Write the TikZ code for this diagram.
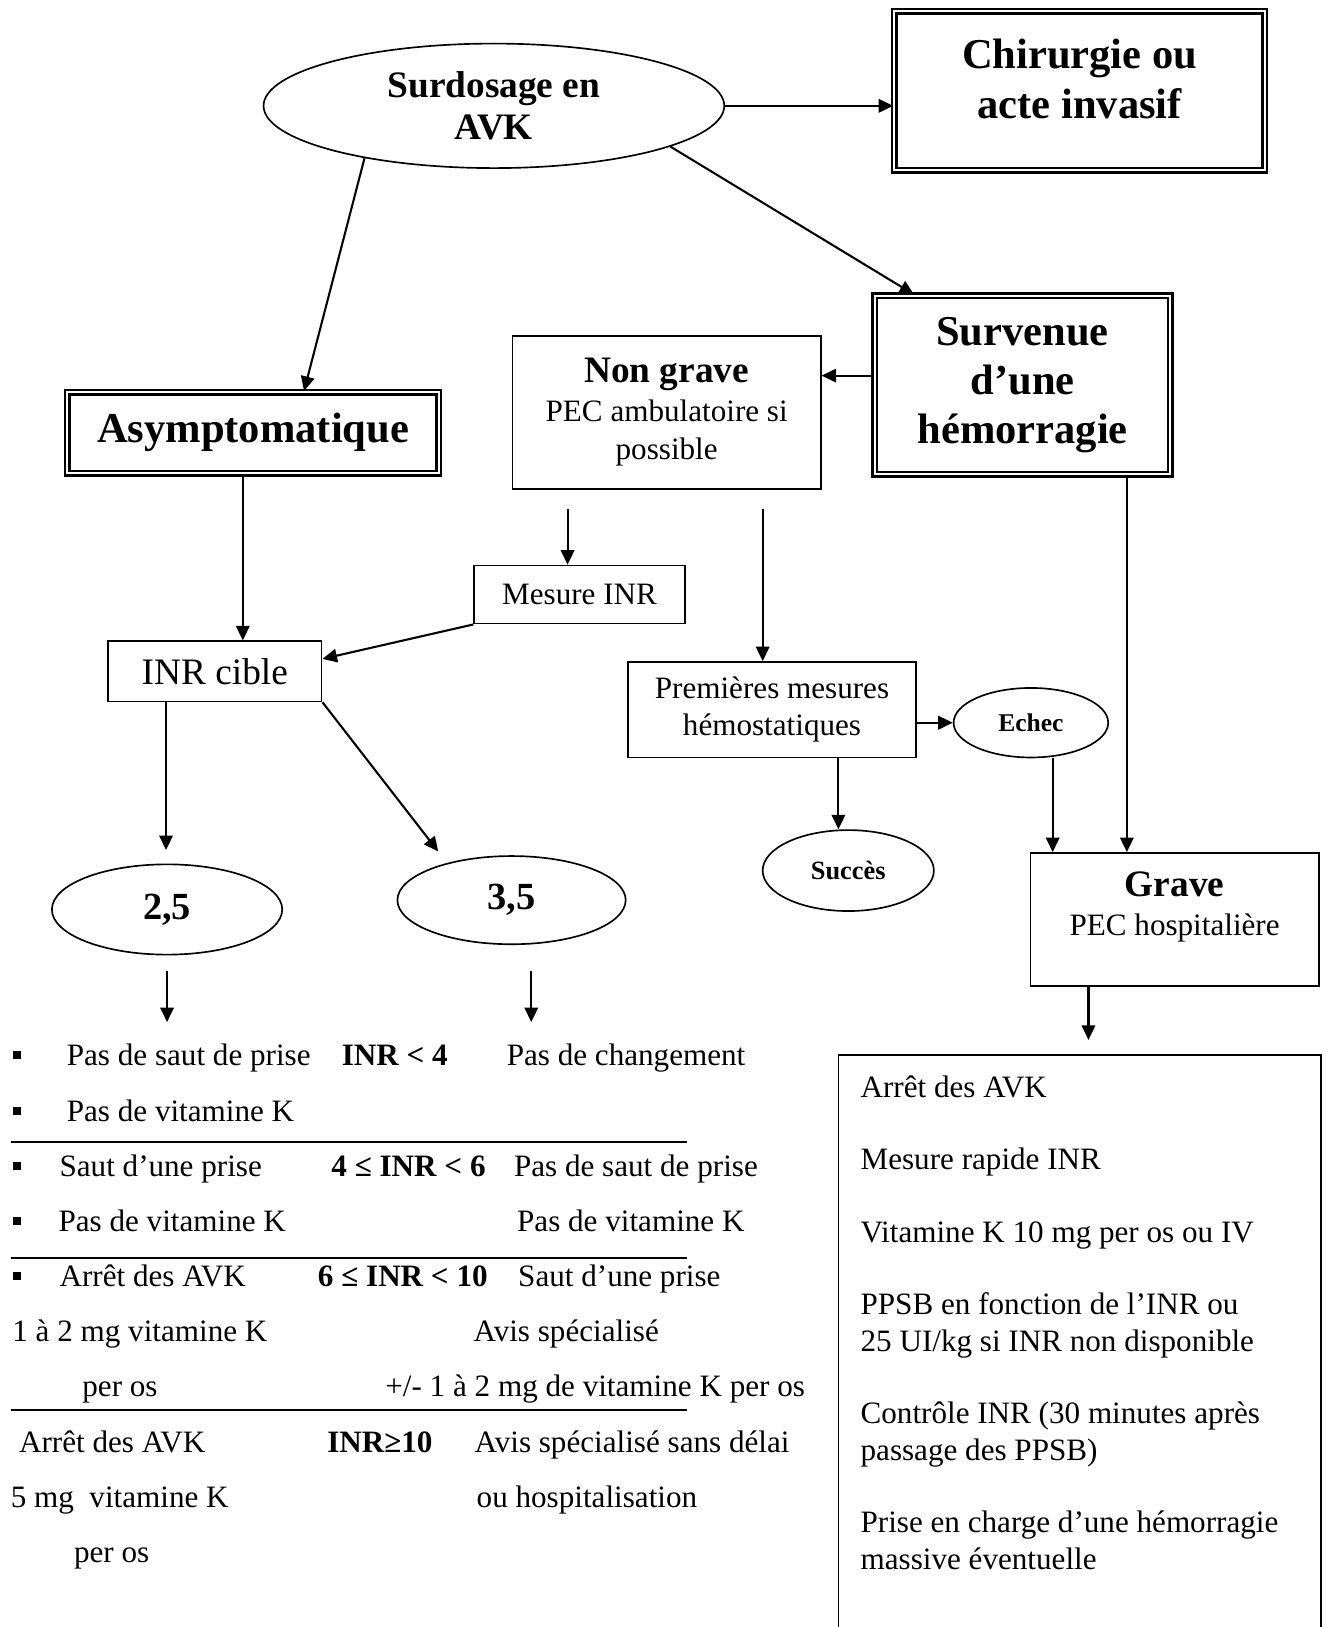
\documentclass[tikz,border=0pt]{standalone}
\usepackage{fontspec}
\setmainfont{Liberation Serif}
\usetikzlibrary{shapes.geometric,arrows.meta}

\begin{document}
\begin{tikzpicture}[x=0.5pt,y=-0.5pt,
    box/.style={draw,line width=0.8pt,inner sep=0pt,align=center},
    dbox/.style={draw,double,double distance=1pt,line width=1.2pt,inner sep=0pt,align=center},
    oval/.style={draw,ellipse,line width=0.8pt,inner sep=0pt,align=center},
    arr/.style={-{Triangle[length=7pt,width=6.5pt]},line width=1pt},
    txt/.style={anchor=base west,inner sep=0pt,font=\fontsize{15}{18}\selectfont},
    btxt/.style={txt,font=\fontsize{15}{18}\selectfont\bfseries},
    puce/.style={fill=black,inner sep=0pt,minimum size=4pt}]

    % Page
    \useasboundingbox (0,0) rectangle (1280,1568);
    \clip (0,0) rectangle (1280,1568);

    % Top of the chart
    \node[oval,minimum width=222pt,minimum height=60pt,font=\fontsize{18}{20}\selectfont\bfseries] (surd) at (476,102) {Surdosage en\\AVK};
    \node[dbox,minimum width=178.5pt,minimum height=76.5pt] (chir) at (1040.5,87.5) {};
    \node[align=center,font=\fontsize{20.5}{24}\selectfont\bfseries] (chirtxt) at (1040.5,76) {Chirurgie ou\\acte invasif};
    \node[dbox,minimum width=142.5pt,minimum height=86pt,font=\fontsize{20.5}{23.5}\selectfont\bfseries] (surv) at (985.5,371) {Survenue\\d’une\\hémorragie};
    \node[dbox,minimum width=179pt,minimum height=39pt,font=\fontsize{20.5}{24}\selectfont\bfseries] (asym) at (244,417) {Asymptomatique};
    \node[box,minimum width=148.5pt,minimum height=73.5pt,font=\fontsize{15}{18.5}\selectfont] (ng) at (642.5,397.5) {{\fontsize{18}{18.5}\selectfont\bfseries Non grave}\\PEC ambulatoire si\\possible};

    % Left branch
    \node[box,minimum width=101.5pt,minimum height=28pt,font=\fontsize{15}{18}\selectfont] (mes) at (558.5,573) {Mesure INR};
    \node[box,minimum width=103pt,minimum height=29pt,font=\fontsize{18}{20}\selectfont] (inrc) at (207,647) {INR cible};
    \node[oval,minimum width=111pt,minimum height=43.5pt,font=\fontsize{18.5}{20}\selectfont\bfseries] (e25) at (161,876.5) {2,5};
    \node[oval,minimum width=110pt,minimum height=42.5pt,font=\fontsize{18.5}{20}\selectfont\bfseries] (e35) at (493,867.5) {3,5};

    % Right branch
    \node[box,minimum width=139pt,minimum height=46pt,font=\fontsize{15}{18}\selectfont] (prem) at (744,684) {Premières mesures\\hémostatiques};
    \node[oval,minimum width=74.5pt,minimum height=33.5pt,font=\fontsize{12.3}{14}\selectfont\bfseries] (echec) at (993.5,696.5) {Echec};
    \node[oval,minimum width=82.5pt,minimum height=39pt,font=\fontsize{12.7}{14}\selectfont\bfseries] (succ) at (817.5,839) {Succès};
    \node[box,minimum width=139pt,minimum height=64pt] (grave) at (1132,886) {};
    \node[align=center,font=\fontsize{15}{19}\selectfont] (gravetxt) at (1132,874) {{\fontsize{18}{19}\selectfont\bfseries Grave}\\PEC hospitalière};
    \node[box,minimum width=232.5pt,minimum height=311.5pt] (avk) at (1040.5,1328.5) {};
    \node[anchor=north west,inner sep=0pt,align=left,font=\fontsize{15}{17.5}\selectfont] (avktxt) at (829,1036) {Arrêt des AVK\\[17.5pt]
        Mesure rapide INR\\[17.5pt]
        Vitamine K 10 mg per os ou IV\\[17.5pt]
        PPSB en fonction de l’INR ou\\25 UI/kg si INR non disponible\\[17.5pt]
        Contrôle INR (30 minutes après\\passage des PPSB)\\[17.5pt]
        Prise en charge d’une hémorragie\\massive éventuelle};

    % Arrows
    \draw[arr] (surd.east) -- (surd.east -| chir.west);
    \draw[arr] (surd.-13) -- ([xshift=19.5pt]surv.north west);
    \draw[arr] (surd.-158) -- ([xshift=24.5pt]asym.north);
    \draw[arr] ([yshift=4.5pt]surv.west) -- ([yshift=4.5pt]surv.west -| ng.east);
    \draw[arr] ([xshift=-5pt]asym.south) -- ([xshift=-5pt]asym.south |- inrc.north);
    \draw[arr,shorten <=9.5pt] ([xshift=-47.75pt]ng.south) -- ([xshift=-47.75pt]ng.south |- mes.north);
    \draw[arr] (mes.south west) -- ([yshift=6pt]inrc.east);
    \draw[arr,shorten >=6.5pt] ([xshift=-23.5pt]inrc.south) -- ([xshift=-23.5pt]inrc.south |- e25.north);
    \draw[arr,shorten >=7pt] (inrc.south east) -- (e35.150);
    \coordinate (f25) at (160,985);
    \coordinate (f35) at (512,985);
    \draw[arr,shorten <=7.5pt] (e25.south) -- (e25.south |- f25);
    \draw[arr,shorten <=12.5pt] ([xshift=9.5pt]e35.south) -- ([xshift=9.5pt]e35.south |- f35);
    \draw[arr,shorten <=9.5pt] ([xshift=46.25pt]ng.south) -- ([xshift=46.25pt]ng.south |- prem.north);
    \draw[arr] (prem.east |- echec.west) -- (echec.west);
    \draw[arr] ([xshift=32pt]prem.south) -- ([xshift=32pt]prem.south |- succ.north);
    \draw[arr] ([xshift=10.5pt]echec.south) -- ([xshift=10.5pt]echec.south |- grave.north);
    \draw[arr] ([xshift=50.25pt]surv.south) -- ([xshift=50.25pt]surv.south |- grave.north);
    \draw[arr,shorten >=7pt] ([xshift=-41.5pt]grave.south) -- ([xshift=-41.5pt]grave.south |- avk.north);

    % Table of INR values
    \foreach \y in {1017,1071,1124,1177,1230}
        \node[puce] (p\y) at (16.5,\y) {};
    \foreach \y in {1101,1212,1359}
        \draw[line width=1pt] (11,\y) -- (662,\y);
    \node[txt] (r1a) at (64,1027) {Pas de saut de prise};
    \node[btxt] (r1b) at (329,1027) {INR < 4};
    \node[txt] (r1c) at (488,1027) {Pas de changement};
    \node[txt] (r2a) at (64,1081) {Pas de vitamine K};
    \node[txt] (r3a) at (57,1134) {Saut d’une prise};
    \node[btxt] (r3b) at (319,1134) {4 ≤ INR < 6};
    \node[txt] (r3c) at (495,1134) {Pas de saut de prise};
    \node[txt] (r4a) at (56,1187) {Pas de vitamine K};
    \node[txt] (r4c) at (498,1187) {Pas de vitamine K};
    \node[txt] (r5a) at (57,1240) {Arrêt des AVK};
    \node[btxt] (r5b) at (306,1240) {6 ≤ INR < 10};
    \node[txt] (r5c) at (499,1240) {Saut d’une prise};
    \node[txt] (r6a) at (11.5,1293) {1 à 2 mg vitamine K};
    \node[txt] (r6c) at (456,1293) {Avis spécialisé};
    \node[txt] (r7a) at (79,1346) {per os};
    \node[txt] (r7c) at (371,1346) {+/- 1 à 2 mg de vitamine K per os};
    \node[txt] (r8a) at (18,1400) {Arrêt des AVK};
    \node[btxt] (r8b) at (315,1400) {INR≥10};
    \node[txt] (r8c) at (457,1400) {Avis spécialisé sans délai};
    \node[txt] (r9a) at (10,1453) {5 mg~ vitamine K};
    \node[txt] (r9c) at (459,1453) {ou hospitalisation};
    \node[txt] (r10a) at (71,1506) {per os};
\end{tikzpicture}
\end{document}
